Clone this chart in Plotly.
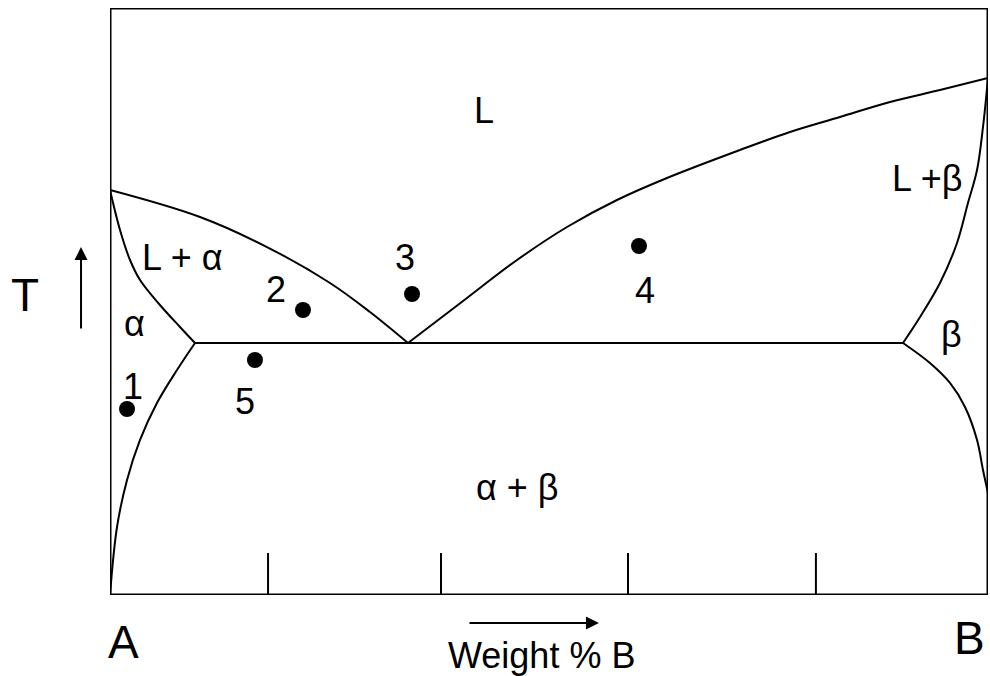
import plotly.graph_objects as go

# Phase diagram data (x: weight % B, y: temperature, relative units 0-100)
liq_left_x = [0, 10.25, 17.88, 25.06, 29.61, 33.94]
liq_left_y = [69.0, 64.40, 59.28, 53.15, 48.21, 42.93]

liq_right_x = [33.94, 40.66, 46.36, 52.05, 57.74, 63.44, 71.75, 77.45, 83.14, 88.84, 94.53, 100]
liq_right_y = [42.93, 50.60, 57.07, 62.69, 67.29, 71.04, 75.81, 78.88, 81.43, 83.99, 86.03, 88.07]

sol_left_x = [0, 1.14, 2.28, 3.42, 5.69, 7.97, 9.68]
sol_left_y = [69.0, 62.18, 57.07, 53.66, 49.40, 45.66, 42.93]

solv_left_x = [9.68, 7.63, 5.35, 3.42, 1.94, 0.80, 0]
solv_left_y = [42.93, 38.33, 32.71, 26.41, 19.59, 11.58, 0]

eut_x = [9.68, 90.32]
eut_y = [42.93, 42.93]

sol_right_x = [100, 99.43, 98.75, 97.72, 96.47, 94.53, 92.26, 90.32]
sol_right_y = [88.07, 79.73, 72.40, 66.78, 59.97, 53.15, 47.36, 42.93]

solv_right_x = [90.32, 93.39, 95.67, 97.38, 98.75, 99.43, 100]
solv_right_y = [42.93, 39.52, 36.12, 32.03, 26.41, 21.29, 17.38]

tick_x = [18.0, 37.7, 59.0, 80.4]
tick_len = 7.16

pt_x = [1.94, 21.98, 34.40, 60.25, 16.51]
pt_y = [31.69, 48.55, 51.28, 59.45, 40.03]
pt_labels = ["1", "2", "3", "4", "5"]
pt_label_x = [2.62, 18.9, 33.6, 60.9, 15.4]
pt_label_y = [35.6, 51.96, 57.58, 51.8, 32.9]

region_labels = ["L", "L + α", "α", "L +β", "β", "α + β"]
region_x = [42.6, 8.2, 2.8, 93.1, 95.8, 46.4]
region_y = [82.5, 57.5, 46.3, 71.0, 44.3, 18.3]

FONT = "Arial, Liberation Sans, sans-serif"
fig = go.Figure()

curves = [(liq_left_x, liq_left_y, "spline"), (liq_right_x, liq_right_y, "spline"),
          (sol_left_x, sol_left_y, "spline"), (solv_left_x, solv_left_y, "spline"),
          (eut_x, eut_y, "linear"), (sol_right_x, sol_right_y, "spline"),
          (solv_right_x, solv_right_y, "spline")]
for cx, cy, shp in curves:
    fig.add_trace(go.Scatter(x=cx, y=cy, mode="lines",
                             line=dict(color="black", width=2, shape=shp, smoothing=1.0),
                             cliponaxis=False, hoverinfo="skip", showlegend=False))

for tx in tick_x:
    fig.add_trace(go.Scatter(x=[tx, tx], y=[0, tick_len], mode="lines",
                             line=dict(color="black", width=2),
                             hoverinfo="skip", showlegend=False))

fig.add_trace(go.Scatter(x=pt_x, y=pt_y, mode="markers",
                         marker=dict(color="black", size=16),
                         hoverinfo="skip", showlegend=False))

annotations = []
for t, x, y in zip(pt_labels, pt_label_x, pt_label_y):
    annotations.append(dict(x=x, y=y, text=t, showarrow=False,
                            font=dict(family=FONT, size=36, color="black")))
for t, x, y in zip(region_labels, region_x, region_y):
    annotations.append(dict(x=x, y=y, text=t, showarrow=False,
                            font=dict(family=FONT, size=36, color="black")))

# outside labels in paper coordinates (axis ranges are 0-100 -> paper = value/100)
def P(v):
    return v / 100.0

def outside(text, x, y, size):
    return dict(x=P(x), y=P(y), xref="paper", yref="paper", text=text,
                showarrow=False, xanchor="center", yanchor="middle",
                font=dict(family=FONT, size=size, color="black"))

annotations += [
    outside("T", -9.68, 51.1, 46),
    outside("A", 1.59, -8.0, 46),
    outside("B", 97.9, -7.3, 46),
    outside("Weight % B", 49.2, -10.3, 36),
    # up arrow (temperature)
    dict(x=P(-3.30), y=P(59.28), ax=0, ay=83, xref="paper", yref="paper",
         axref="pixel", ayref="pixel", text="", showarrow=True,
         arrowhead=2, arrowsize=1.3, arrowwidth=2, arrowcolor="black"),
    # right arrow (composition)
    dict(x=P(55.69), y=P(-4.77), ax=-131, ay=0, xref="paper", yref="paper",
         axref="pixel", ayref="pixel", text="", showarrow=True,
         arrowhead=2, arrowsize=1.3, arrowwidth=2, arrowcolor="black"),
]

fig.update_layout(
    width=990, height=676,
    margin=dict(l=110, r=2, t=8, b=81),
    paper_bgcolor="white", plot_bgcolor="white",
    xaxis=dict(range=[0, 100], visible=False, fixedrange=True),
    yaxis=dict(range=[0, 100], visible=False, fixedrange=True),
    annotations=annotations,
    shapes=[dict(type="rect", x0=0, x1=100, y0=0, y1=100, xref="x", yref="y",
                 line=dict(color="black", width=3))],
    font=dict(family=FONT),
)

fig.write_html("out.html", config={"displayModeBar": False},
               post_script="document.body.style.margin='0';document.body.style.overflow='hidden';")
